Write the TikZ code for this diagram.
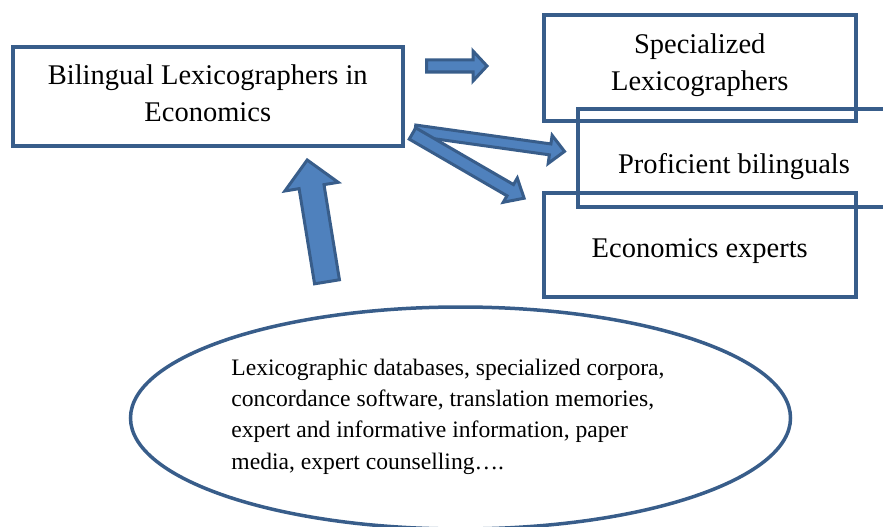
\documentclass[tikz,border=0pt]{standalone}
\usepackage{fontspec}
\setmainfont{Liberation Serif}
\usetikzlibrary{calc,shapes.geometric}

\definecolor{lineblue}{HTML}{385D8A}
\definecolor{fillblue}{HTML}{4F81BD}

% block arrow: tail, tip, shaft half width, head half width, head length
\newcommand{\fatarrow}[5]{%
  \coordinate (hb) at ($(#2)!#5!(#1)$);
  \draw[fatarrow] ($(#1)!#3!90:(#2)$) -- ($(hb)!#3!90:(#2)$) -- ($(hb)!#4!90:(#2)$) -- (#2)
    -- ($(hb)!#4!-90:(#2)$) -- ($(hb)!#3!-90:(#2)$) -- ($(#1)!#3!-90:(#2)$) -- cycle;}

\begin{document}
\begin{tikzpicture}[x=1pt,y=-1pt,
    box/.style={draw=lineblue,line width=4pt,inner sep=0pt},
    boxtext/.style={font=\fontsize{28.5}{37}\selectfont,align=center,inner sep=0pt},
    elltext/.style={font=\fontsize{23.6}{31.4}\selectfont,align=left,inner sep=0pt},
    fatarrow/.style={draw=lineblue,fill=fillblue,line width=3pt,line join=miter}]
\useasboundingbox (0,0) rectangle (883,527);
\clip (0,0) rectangle (883,527);

\node[box,minimum width=390.5pt,minimum height=98.5pt] (bilingual) at (207.75,96.75) {};
\node[box,minimum width=311.5pt,minimum height=105.2pt] (special) at (699.75,67.9) {};
\node[box,minimum width=311.5pt,minimum height=98.4pt] (proficient) at (734,158) {};
\node[box,minimum width=311.5pt,minimum height=104.2pt] (econ) at (699.75,245.1) {};
\node[draw=lineblue,line width=3.5pt,ellipse,minimum width=660pt,minimum height=222pt,inner sep=0pt] (tools) at (460.5,418) {};

\node[boxtext] (bilingualtxt) at ([yshift=3.9pt]bilingual.center) {Bilingual Lexicographers in\\Economics};
\node[boxtext] (specialtxt) at ([yshift=3pt]special.center) {Specialized\\Lexicographers};
\node[boxtext] (proficienttxt) at ([yshift=-8.4pt]proficient.center) {Proficient bilinguals};
\node[boxtext] (econtxt) at ([yshift=-5.5pt]econ.center) {Economics experts};
\node[elltext] (toolstxt) at ([xshift=-12.5pt,yshift=1.5pt]tools.center)
  {Lexicographic databases, specialized corpora,\\concordance software, translation memories,\\expert and informative information, paper\\media, expert counselling….};

% arrows
\coordinate (tailS) at (426.5,66);  \coordinate (tipS) at (487,66);
\coordinate (tailP) at (415,130.5); \coordinate (tipP) at (564.5,151.4);
\coordinate (tailE) at (412.5,133.5); \coordinate (tipE) at (524.1,198.2);
\coordinate (tailU) at (327,281.8); \coordinate (tipU) at (307.2,160);
\fatarrow{tailS}{tipS}{6pt}{15pt}{14pt}
\fatarrow{tailP}{tipP}{5.5pt}{14.2pt}{14.5pt}
\fatarrow{tailE}{tipE}{6.5pt}{14pt}{16pt}
\fatarrow{tailU}{tipU}{12.6pt}{27pt}{27pt}
\end{tikzpicture}
\end{document}
